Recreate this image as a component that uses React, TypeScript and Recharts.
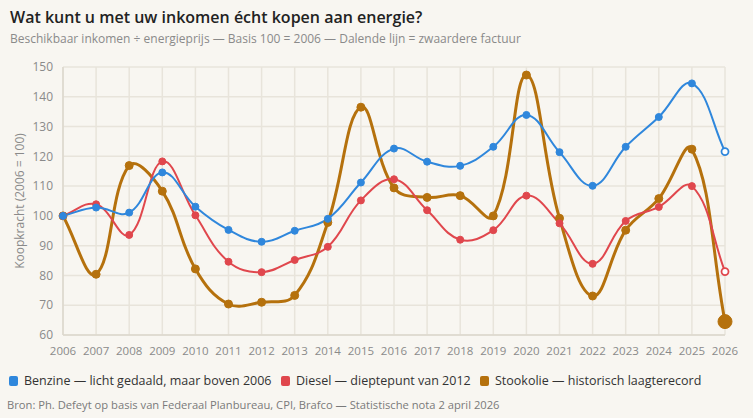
import React from "react";
import { LineChart, Line, XAxis, YAxis, CartesianGrid } from "recharts";

const years = ["2006", "2007", "2008", "2009", "2010", "2011", "2012", "2013", "2014", "2015", "2016", "2017", "2018", "2019", "2020", "2021", "2022", "2023", "2024", "2025", "2026"];
const benzine = [100, 102.8, 101.1, 114.6, 103.1, 95.3, 91.3, 95.0, 99.0, 111.2, 122.6, 118.2, 116.8, 123.2, 133.9, 121.4, 110.1, 123.2, 133.2, 144.5, 121.6];
const diesel = [100, 103.9, 93.6, 118.3, 100.2, 84.6, 81.1, 85.2, 89.6, 105.2, 112.3, 101.9, 92.0, 95.2, 106.8, 97.5, 83.9, 98.3, 103.0, 110.0, 81.3];
const stookolie = [100, 80.4, 116.9, 108.3, 82.2, 70.4, 71.0, 73.3, 97.8, 136.5, 109.4, 106.2, 106.8, 100.0, 147.3, 99.2, 73.1, 95.2, 105.8, 122.4, 64.5];
const yTicks = [60, 70, 80, 90, 100, 110, 120, 130, 140, 150];

const series = [
  { key: "benzine", label: "Benzine — licht gedaald, maar boven 2006", color: "#2f87dc" },
  { key: "diesel", label: "Diesel — dieptepunt van 2012", color: "#e0474d" },
  { key: "stookolie", label: "Stookolie — historisch laagterecord", color: "#b5710d" },
];
const legendX = [9, 281, 480];

const data = years.map((year, i) => ({
  year,
  benzine: benzine[i],
  diesel: diesel[i],
  stookolie: stookolie[i],
}));

const FONT = "'Open Sans', 'Noto Sans', sans-serif";

// chart.js-like spline (tension 0.4) as a d3 curve factory
const splineCurve = (context: any) => {
  let pts: number[][] = [];
  return {
    areaStart() {},
    areaEnd() {},
    lineStart() {
      pts = [];
    },
    point(x: number, y: number) {
      pts.push([+x, +y]);
    },
    lineEnd() {
      const n = pts.length;
      if (!n) return;
      context.moveTo(pts[0][0], pts[0][1]);
      const t = 0.4;
      const cps = pts.map((p, i) => {
        const prev = pts[Math.max(0, i - 1)];
        const next = pts[Math.min(n - 1, i + 1)];
        const d01 = Math.hypot(p[0] - prev[0], p[1] - prev[1]);
        const d12 = Math.hypot(next[0] - p[0], next[1] - p[1]);
        let s01 = d01 / (d01 + d12);
        let s12 = d12 / (d01 + d12);
        if (isNaN(s01)) s01 = 0;
        if (isNaN(s12)) s12 = 0;
        const fa = t * s01;
        const fb = t * s12;
        return {
          px: p[0] - fa * (next[0] - prev[0]),
          py: p[1] - fa * (next[1] - prev[1]),
          nx: p[0] + fb * (next[0] - prev[0]),
          ny: p[1] + fb * (next[1] - prev[1]),
        };
      });
      for (let i = 1; i < n; i++) {
        context.bezierCurveTo(cps[i - 1].nx, cps[i - 1].ny, cps[i].px, cps[i].py, pts[i][0], pts[i][1]);
      }
    },
  };
};

const makeDot = (color: string, lastBig: boolean) => (props: any) => {
  const { cx, cy, index } = props;
  const last = index === years.length - 1;
  if (last && lastBig) {
    return <circle key={`d-${index}`} cx={cx} cy={cy} r={7} fill={color} stroke={color} />;
  }
  if (last) {
    return <circle key={`d-${index}`} cx={cx} cy={cy} r={3.5} fill="#ffffff" stroke={color} strokeWidth={1.8} />;
  }
  return <circle key={`d-${index}`} cx={cx} cy={cy} r={lastBig ? 4 : 3.5} fill={color} stroke={color} strokeWidth={1} />;
};

export default function App() {
  const drawOrder = [series[2], series[1], series[0]];
  return (
    <div
      style={{
        position: "fixed",
        left: 0,
        top: 0,
        width: 753,
        height: 418,
        background: "#f8f6f1",
        fontFamily: FONT,
        overflow: "hidden",
      }}
    >
      <div style={{ position: "absolute", left: 10, top: 6, fontSize: 16, lineHeight: "22px", fontWeight: 600, color: "#222", whiteSpace: "nowrap" }}>
        Wat kunt u met uw inkomen écht kopen aan energie?
      </div>
      <div style={{ position: "absolute", left: 10, top: 30, fontSize: 12, lineHeight: "17px", color: "#8a8a8a", whiteSpace: "nowrap" }}>
        Beschikbaar inkomen ÷ energieprijs — Basis 100 = 2006 — Dalende lijn = zwaardere factuur
      </div>
      <div style={{ position: "absolute", left: 0, top: 0 }}>
        <LineChart width={753} height={365} data={data} margin={{ top: 67, right: 28, left: 0, bottom: 0 }}>
          <CartesianGrid stroke="#e8e4db" strokeWidth={1.5} />
          <XAxis
            dataKey="year"
            height={30}
            interval={0}
            tickSize={0}
            tickMargin={12}
            axisLine={{ stroke: "#dcd7cc", strokeWidth: 1.5 }}
            tick={{ fill: "#8a8a8a", fontSize: 11.5, fontFamily: FONT }}
          />
          <YAxis
            width={63}
            domain={[60, 150]}
            ticks={yTicks}
            interval={0}
            tickSize={0}
            tickMargin={10}
            axisLine={{ stroke: "#dcd7cc", strokeWidth: 1.5 }}
            tick={{ fill: "#8a8a8a", fontSize: 12, fontFamily: FONT }}
            label={{
              value: "Koopkracht (2006 = 100)",
              angle: -90,
              position: "insideLeft",
              offset: 20,
              style: { textAnchor: "middle", fill: "#8a8a8a", fontSize: 12, fontFamily: FONT },
            }}
          />
          {drawOrder.map((s) => (
            <Line
              key={s.key}
              dataKey={s.key}
              type={splineCurve as any}
              stroke={s.color}
              strokeWidth={s.key === "stookolie" ? 3 : 2}
              dot={makeDot(s.color, s.key === "stookolie")}
              activeDot={false}
              isAnimationActive={false}
            />
          ))}
        </LineChart>
      </div>
      {series.map((s, i) => (
        <div
          key={s.key}
          style={{
            position: "absolute",
            left: legendX[i],
            top: 372,
            display: "flex",
            alignItems: "center",
            fontSize: 12.5,
            lineHeight: "18px",
            color: "#333",
            whiteSpace: "nowrap",
          }}
        >
          <span style={{ display: "inline-block", width: 9, height: 10, borderRadius: 2, background: s.color, marginRight: 6 }} />
          <span>{s.label}</span>
        </div>
      ))}
      <div style={{ position: "absolute", left: 7, top: 397, fontSize: 11.2, lineHeight: "16px", color: "#7a7a7a", whiteSpace: "nowrap" }}>
        Bron: Ph. Defeyt op basis van Federaal Planbureau, CPI, Brafco — Statistische nota 2 april 2026
      </div>
    </div>
  );
}
